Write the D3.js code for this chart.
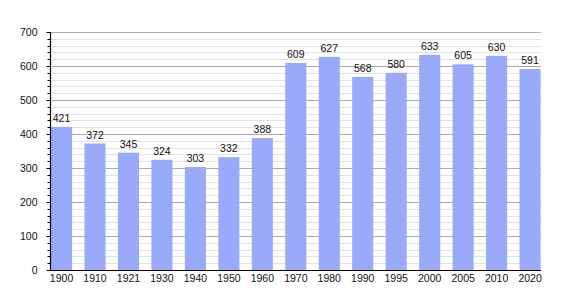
<!DOCTYPE html>
<html lang="en">
<head>
<meta charset="UTF-8">
<script src="https://d3js.org/d3.v7.min.js"></script>
<style>
  body { margin: 0; background: #fff; }
  svg { display: block; font-family: "Liberation Sans", Arial, sans-serif; }
</style>
</head>
<body>
<div id="chart"></div>
<script>
const years = ["1900", "1910", "1921", "1930", "1940", "1950", "1960", "1970", "1980", "1990", "1995", "2000", "2005", "2010", "2020"];
const population = [421, 372, 345, 324, 303, 332, 388, 609, 627, 568, 580, 633, 605, 630, 591];
const yTicks = [0, 100, 200, 300, 400, 500, 600, 700];

const w = 570, h = 300;
const plotLeft = 50, plotRight = 541, plotTop = 32, plotBottom = 270;

const svg = d3.select("#chart").append("svg")
    .attr("width", w)
    .attr("height", h);

const x = d3.scaleBand()
    .domain(years)
    .range([51, 540.6])
    .paddingInner(0.37)
    .paddingOuter(0);

const y = d3.scaleLinear()
    .domain([0, 700])
    .range([plotBottom, plotTop]);

// minor gridlines every 20
const minor = d3.range(20, 701, 20).filter(d => d % 100 !== 0);
svg.append("g").selectAll("line")
    .data(minor)
    .enter().append("line")
    .attr("x1", plotLeft).attr("x2", plotRight)
    .attr("y1", d => Math.round(y(d)) + 0.5)
    .attr("y2", d => Math.round(y(d)) + 0.5)
    .attr("stroke", "#e2e2e2");

// major gridlines
svg.append("g").selectAll("line")
    .data(yTicks.filter(d => d > 0))
    .enter().append("line")
    .attr("x1", plotLeft).attr("x2", plotRight)
    .attr("y1", d => Math.round(y(d)) + 0.5)
    .attr("y2", d => Math.round(y(d)) + 0.5)
    .attr("stroke", "#aaaaaa");

// bars
svg.append("g").selectAll("rect")
    .data(population)
    .enter().append("rect")
    .attr("x", (d, i) => x(years[i]))
    .attr("y", d => y(d))
    .attr("width", x.bandwidth())
    .attr("height", d => plotBottom - y(d))
    .attr("fill", "#99aafb");

// value labels
svg.append("g").selectAll("text")
    .data(population)
    .enter().append("text")
    .attr("x", (d, i) => x(years[i]) + x.bandwidth() / 2)
    .attr("y", d => y(d) - 5)
    .attr("text-anchor", "middle")
    .attr("font-size", "10.5px")
    .attr("fill", "#111")
    .text(d => d);

// minor ticks on y axis
svg.append("g").selectAll("line")
    .data(minor)
    .enter().append("line")
    .attr("x1", plotLeft - 2.5).attr("x2", plotLeft)
    .attr("y1", d => Math.round(y(d)) + 0.5)
    .attr("y2", d => Math.round(y(d)) + 0.5)
    .attr("stroke", "#000");

// y axis
const yAxis = d3.axisLeft(y)
    .tickValues(yTicks)
    .tickSize(4)
    .tickPadding(9);

const gy = svg.append("g")
    .attr("transform", `translate(${plotLeft + 0.5},0)`)
    .call(yAxis);
gy.select(".domain").remove();
gy.selectAll("text").attr("font-size", "10.5px").attr("fill", "#111").style("font-family", "Liberation Sans, Arial, sans-serif");

svg.append("line")
    .attr("x1", plotLeft + 0.5).attr("x2", plotLeft + 0.5)
    .attr("y1", plotTop).attr("y2", plotBottom)
    .attr("stroke", "#000")
    .attr("stroke-width", 1.2);

// x axis
const xAxis = d3.axisBottom(x).tickSize(0).tickPadding(4.5);
const gx = svg.append("g")
    .attr("transform", `translate(0,${plotBottom})`)
    .call(xAxis);
gx.select(".domain").remove();
gx.selectAll("text").attr("font-size", "10.5px").attr("fill", "#111").style("font-family", "Liberation Sans, Arial, sans-serif");

svg.append("line")
    .attr("x1", plotLeft).attr("x2", plotRight)
    .attr("y1", plotBottom + 0.5).attr("y2", plotBottom + 0.5)
    .attr("stroke", "#000")
    .attr("stroke-width", 1.2);
</script>
</body>
</html>
